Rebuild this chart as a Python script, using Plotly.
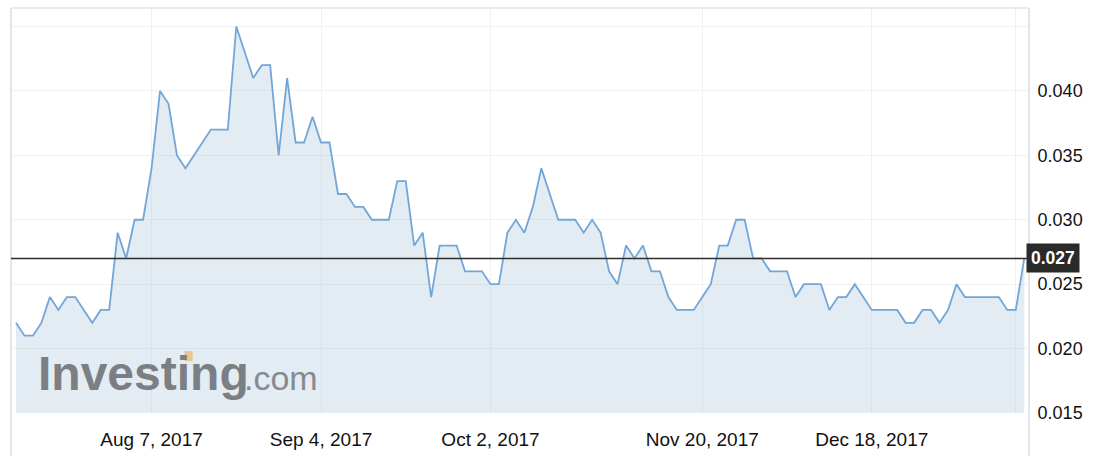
import plotly.graph_objects as go

# Daily closing prices (one value per trading session, in order)
prices = [
    0.022, 0.021, 0.021, 0.022, 0.024, 0.023, 0.024, 0.024, 0.023, 0.022,
    0.023, 0.023, 0.029, 0.027, 0.030, 0.030, 0.034, 0.040, 0.039, 0.035,
    0.034, 0.035, 0.036, 0.037, 0.037, 0.037, 0.045, 0.043, 0.041, 0.042,
    0.042, 0.035, 0.041, 0.036, 0.036, 0.038, 0.036, 0.036, 0.032, 0.032,
    0.031, 0.031, 0.030, 0.030, 0.030, 0.033, 0.033, 0.028, 0.029, 0.024,
    0.028, 0.028, 0.028, 0.026, 0.026, 0.026, 0.025, 0.025, 0.029, 0.030,
    0.029, 0.031, 0.034, 0.032, 0.030, 0.030, 0.030, 0.029, 0.030, 0.029,
    0.026, 0.025, 0.028, 0.027, 0.028, 0.026, 0.026, 0.024, 0.023, 0.023,
    0.023, 0.024, 0.025, 0.028, 0.028, 0.030, 0.030, 0.027, 0.027, 0.026,
    0.026, 0.026, 0.024, 0.025, 0.025, 0.025, 0.023, 0.024, 0.024, 0.025,
    0.024, 0.023, 0.023, 0.023, 0.023, 0.022, 0.022, 0.023, 0.023, 0.022,
    0.023, 0.025, 0.024, 0.024, 0.024, 0.024, 0.024, 0.023, 0.023, 0.027,
]
sessions = list(range(len(prices)))

# Date ticks (session index -> label)
x_tick_sessions = [16, 36, 56, 81, 101, 118]
x_tick_labels = ["Aug 7, 2017", "Sep 4, 2017", "Oct 2, 2017", "Nov 20, 2017", "Dec 18, 2017", ""]

y_tick_values = [0.015, 0.020, 0.025, 0.030, 0.035, 0.040, 0.045]
y_tick_labels = ["0.015", "0.020", "0.025", "0.030", "0.035", "0.040", ""]

last_price = prices[-1]

FONT = "Arial, Liberation Sans, Helvetica, sans-serif"
FRAME = "#e1e5ed"
GRID = "#eff1f5"

fig = go.Figure()
fig.add_trace(go.Scatter(
    x=sessions, y=prices, mode="lines",
    line=dict(color="#72a6d8", width=1.8),
    fill="tozeroy", fillcolor="rgba(151,185,207,0.27)",
    hoverinfo="skip", showlegend=False,
))

fig.update_layout(
    width=1096, height=456,
    margin=dict(l=11, r=67, t=8, b=43),
    paper_bgcolor="white", plot_bgcolor="white",
    font=dict(family=FONT, color="#111111"),
    xaxis=dict(
        range=[-0.59, 119.56], tickmode="array",
        tickvals=x_tick_sessions, ticktext=x_tick_labels,
        showgrid=True, gridcolor=GRID, gridwidth=1,
        zeroline=False, showline=False, automargin=False,
        ticks="outside", ticklen=9, tickcolor="rgba(0,0,0,0)",
        tickfont=dict(size=19, family=FONT, color="#111111"),
    ),
    yaxis=dict(
        range=[0.015, 0.04644], side="right", tickmode="array",
        tickvals=y_tick_values, ticktext=y_tick_labels,
        showgrid=True, gridcolor=GRID, gridwidth=1,
        zeroline=False, showline=False, automargin=False,
        ticks="outside", ticklen=4, tickcolor="rgba(0,0,0,0)",
        tickfont=dict(size=18, family=FONT, color="#111111"),
    ),
)

# Frame around the chart
fig.add_shape(type="line", xref="paper", yref="paper", x0=0, x1=0, y0=-0.2, y1=1,
              line=dict(color=FRAME, width=2))
fig.add_shape(type="line", xref="paper", yref="paper", x0=1, x1=1, y0=-0.2, y1=1,
              line=dict(color=FRAME, width=2))
fig.add_shape(type="line", xref="paper", yref="paper", x0=0, x1=1, y0=1, y1=1,
              line=dict(color=FRAME, width=1.5))

# Last price line and label
fig.add_shape(type="line", xref="paper", yref="y", x0=0, x1=1, y0=last_price, y1=last_price,
              line=dict(color="#2f2f2f", width=1.5))
fig.add_annotation(
    xref="paper", yref="y", x=1, y=last_price, xanchor="left", yanchor="middle",
    xshift=-3, text="<b>%.3f</b>" % last_price, showarrow=False,
    font=dict(size=17.5, color="white", family=FONT),
    bgcolor="#2a2a2a", borderpad=4,
)

# Watermark
fig.add_annotation(
    xref="paper", yref="paper", x=0.0246, y=0.097, xanchor="left", yanchor="middle",
    text="<b>Investing</b>", showarrow=False,
    font=dict(size=48, color="#7b7f84", family=FONT),
)
fig.add_shape(type="rect", xref="paper", yref="paper",
              x0=0.1705, x1=0.1785, y0=0.128, y1=0.153,
              fillcolor="#e9c88f", line=dict(width=0))
fig.add_annotation(
    xref="paper", yref="paper", x=0.2265, y=0.087, xanchor="left", yanchor="middle",
    text=".com", showarrow=False,
    font=dict(size=34, color="#868a8f", family=FONT),
)

fig.write_html("out.html", post_script="document.body.style.margin='0';",
               config={"displayModeBar": False})
